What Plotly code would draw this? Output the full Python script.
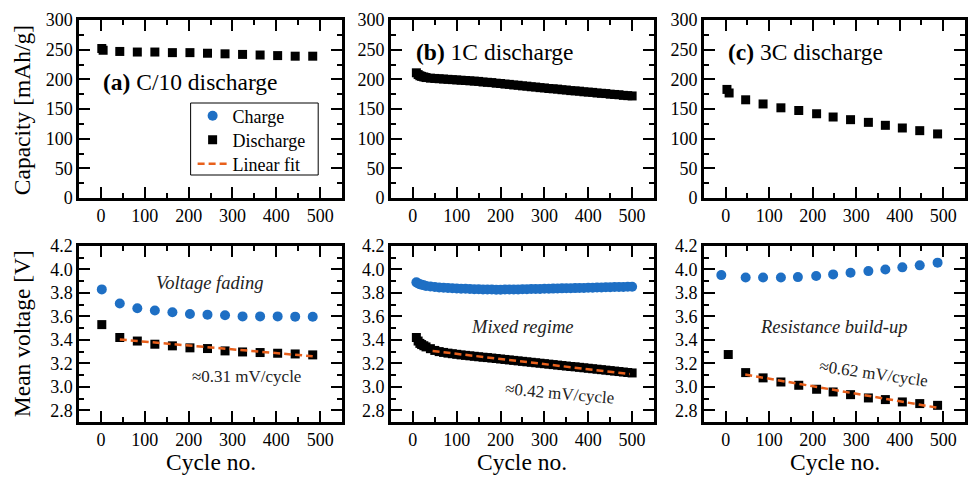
import plotly.graph_objects as go

FONT = "Liberation Serif"
BLUE = "#1E6FC4"
ORANGE = "#E8601C"
BLACK = "black"

# ---------------- data ----------------
# (a) C/10
cyc_a_cap = [2, 5, 43, 83, 123, 163, 203, 243, 283, 323, 363, 403, 443, 483]
cap_a = [252, 249, 247, 246, 246, 245, 245, 244, 243, 242, 241, 240, 239, 239]
cyc_a = [2, 43, 83, 123, 163, 203, 243, 283, 323, 363, 403, 443, 483]
vch_a = [3.83, 3.71, 3.67, 3.65, 3.635, 3.62, 3.615, 3.61, 3.60, 3.60, 3.60, 3.598, 3.597]
vdis_a = [3.53, 3.42, 3.39, 3.363, 3.349, 3.332, 3.326, 3.306, 3.297, 3.292, 3.286, 3.28, 3.272]
fit_a_x = [43, 483]
fit_a_y = [3.403, 3.26]

# (b) 1C
cyc_b = [8, 12, 16, 20, 25, 30, 40, 50, 60, 70, 80, 90, 100, 110, 120, 130, 140, 150,
         160, 170, 180, 190, 200, 210, 220, 230, 240, 250, 260, 270, 280, 290, 300, 310,
         320, 330, 340, 350, 360, 370, 380, 390, 400, 410, 420, 430, 440, 450, 460, 470,
         480, 490, 500]
cap_b = [211, 208, 206, 205, 204, 203, 202, 201.5, 201, 200.5, 200, 199.5, 199, 198.5,
         198, 197.5, 197, 196.5, 195.5, 195, 194.5, 193.5, 193, 192, 191.5, 190.5, 190,
         189, 188.5, 187.5, 187, 186, 185.5, 184.5, 184, 183.5, 182.5, 182, 181, 180.5,
         180, 179, 178.5, 178, 177, 176.5, 176, 175, 174.5, 174, 173, 172.5, 172]
vch_b = [3.89, 3.88, 3.875, 3.87, 3.865, 3.86, 3.855, 3.85, 3.847, 3.845, 3.842, 3.84,
         3.838, 3.836, 3.835, 3.833, 3.832, 3.831, 3.83, 3.829, 3.829, 3.828, 3.828, 3.829,
         3.829, 3.83, 3.83, 3.831, 3.832, 3.833, 3.833, 3.834, 3.835, 3.836, 3.837, 3.838,
         3.839, 3.84, 3.84, 3.841, 3.842, 3.843, 3.844, 3.845, 3.846, 3.847, 3.848, 3.849,
         3.85, 3.85, 3.851, 3.852, 3.853]
vdis_b = [3.42, 3.39, 3.37, 3.36, 3.35, 3.34, 3.325, 3.31, 3.30, 3.293, 3.287, 3.282,
          3.277, 3.272, 3.268, 3.264, 3.26, 3.256, 3.252, 3.249, 3.245, 3.241, 3.237, 3.233,
          3.229, 3.225, 3.221, 3.217, 3.213, 3.209, 3.205, 3.201, 3.197, 3.193, 3.189, 3.185,
          3.181, 3.177, 3.173, 3.17, 3.166, 3.162, 3.158, 3.154, 3.15, 3.146, 3.142, 3.138,
          3.134, 3.13, 3.126, 3.122, 3.118]
fit_b_x = [45, 495]
fit_b_y = [3.305, 3.108]

# (c) 3C
cyc_c_cap = [3, 8, 46, 86, 127, 168, 209, 247, 287, 328, 367, 406, 446, 487]
cap_c = [183, 177, 165.5, 158.5, 152, 147.5, 142, 136.5, 132, 127.5, 122.5, 118, 113.5, 108]
cyc_c_ch = [-10, 46, 86, 127, 166, 208, 247, 287, 328, 367, 406, 446, 487]
vch_c = [3.952, 3.932, 3.932, 3.932, 3.935, 3.944, 3.958, 3.972, 3.986, 4.0, 4.018, 4.035, 4.058]
cyc_c_dis = [6, 46, 86, 127, 168, 209, 247, 287, 328, 367, 406, 446, 487]
vdis_c = [3.275, 3.121, 3.076, 3.041, 3.013, 2.979, 2.956, 2.933, 2.905, 2.891, 2.871, 2.857, 2.842]
fit_c_x = [45, 486]
fit_c_y = [3.104, 2.822]

panel_titles = ["<b>(a)</b> C/10 discharge", "<b>(b)</b> 1C discharge", "<b>(c)</b> 3C discharge"]
regime_labels = ["Voltage fading", "Mixed regime", "Resistance build-up"]
slope_labels = ["≈0.31 mV/cycle", "≈0.42 mV/cycle", "≈0.62 mV/cycle"]

# ---------------- figure ----------------
fig = go.Figure()

def sq(x, y, xa, ya, name="Discharge", show=False, size=9, legend="legend2"):
    fig.add_trace(go.Scatter(x=x, y=y, mode="markers", xaxis=xa, yaxis=ya, name=name,
                             showlegend=show, legend=legend,
                             marker=dict(symbol="square", size=size, color=BLACK,
                                         line=dict(width=0))))

def circ(x, y, xa, ya, show=False, size=10):
    fig.add_trace(go.Scatter(x=x, y=y, mode="markers", xaxis=xa, yaxis=ya, name="Charge",
                             showlegend=show, legend="legend",
                             marker=dict(symbol="circle", size=size, color=BLUE,
                                         line=dict(width=0))))

def fit(x, y, xa, ya, show=False):
    fig.add_trace(go.Scatter(x=x, y=y, mode="lines", xaxis=xa, yaxis=ya, name="Linear fit",
                             showlegend=show, legend="legend3",
                             line=dict(color=ORANGE, width=2.5, dash="7px,4px")))

# top row capacities
sq(cyc_a_cap, cap_a, "x", "y")
sq(cyc_b, cap_b, "x2", "y2")
sq(cyc_c_cap, cap_c, "x3", "y3")

# bottom row voltages (legend entries come from panel a)
circ(cyc_a, vch_a, "x4", "y4", show=True)
sq(cyc_a, vdis_a, "x4", "y4", show=True)
fit(fit_a_x, fit_a_y, "x4", "y4", show=True)

circ(cyc_b, vch_b, "x5", "y5")
sq(cyc_b, vdis_b, "x5", "y5")
fit(fit_b_x, fit_b_y, "x5", "y5")

circ(cyc_c_ch, vch_c, "x6", "y6")
sq(cyc_c_dis, vdis_c, "x6", "y6")
fit(fit_c_x, fit_c_y, "x6", "y6")

# ---------------- layout ----------------
W, H = 968, 477
ML, MR, MT, MB = 79, 0, 20, 55
PW = W - ML - MR
PH = H - MT - MB

def px_x(p):
    return (p - ML) / PW

def px_y(p):
    return (H - MB - p) / PH

xdoms = [[0, 264 / PW], [313 / PW, 577 / PW], [627 / PW, 1.0]]
ydom_top = [px_y(198), 1.0]
ydom_bot = [0, px_y(246)]

tickfont = dict(family=FONT, size=18, color="black")

def xaxis(dom, anchor):
    return dict(domain=dom, anchor=anchor, range=[-50, 550], tick0=0, dtick=100,
                ticks="inside", ticklen=11, tickwidth=2, tickcolor="black",
                showline=True, linewidth=2.5, linecolor="black", mirror="allticks",
                showgrid=False, zeroline=False, tickfont=tickfont,
                minor=dict(dtick=50, ticks="inside", ticklen=5, tickwidth=2,
                           tickcolor="black", showgrid=False))

def yaxis_top(anchor):
    return dict(domain=ydom_top, anchor=anchor, range=[0, 300], tick0=0, dtick=50,
                ticks="inside", ticklen=11, tickwidth=2, tickcolor="black",
                showline=True, linewidth=2.5, linecolor="black", mirror="allticks",
                showgrid=False, zeroline=False, tickfont=tickfont,
                minor=dict(dtick=25, ticks="inside", ticklen=5, tickwidth=2,
                           tickcolor="black", showgrid=False))

def yaxis_bot(anchor):
    return dict(domain=ydom_bot, anchor=anchor, range=[2.7, 4.2], tick0=2.8, dtick=0.2,
                tickformat=".1f",
                ticks="inside", ticklen=11, tickwidth=2, tickcolor="black",
                showline=True, linewidth=2.5, linecolor="black", mirror="allticks",
                showgrid=False, zeroline=False, tickfont=tickfont,
                minor=dict(dtick=0.1, ticks="inside", ticklen=5, tickwidth=2,
                           tickcolor="black", showgrid=False))

def leg(row_y):
    return dict(x=px_x(193), y=px_y(row_y), xanchor="left", yanchor="middle",
                bgcolor="rgba(0,0,0,0)", borderwidth=0,
                font=dict(family=FONT, size=18, color="black"),
                tracegroupgap=0, itemsizing="trace")

layout = dict(
    width=W, height=H,
    margin=dict(l=ML, r=MR, t=MT, b=MB, pad=0),
    paper_bgcolor="white", plot_bgcolor="white",
    font=dict(family=FONT, size=18, color="black"),
    legend=leg(116), legend2=leg(140), legend3=leg(164),
    shapes=[dict(type="rect", xref="paper", yref="paper",
                 x0=px_x(191), x1=px_x(319), y0=px_y(175), y1=px_y(103),
                 line=dict(color="black", width=1), fillcolor="rgba(0,0,0,0)",
                 layer="above")],
)
for i in range(3):
    k = "" if i == 0 else str(i + 1)
    layout["xaxis" + k] = xaxis(xdoms[i], "y" + k)
    layout["yaxis" + k] = yaxis_top("x" + k)
for i in range(3):
    k = str(i + 4)
    layout["xaxis" + k] = xaxis(xdoms[i], "y" + k)
    layout["yaxis" + k] = yaxis_bot("x" + k)

fig.update_layout(**layout)

ann = []
# panel titles
title_pos = [(0.083, 0.654), (0.087, 0.823), (0.083, 0.823)]
for i, (t, (tx, ty)) in enumerate(zip(panel_titles, title_pos)):
    k = "" if i == 0 else str(i + 1)
    ann.append(dict(text=t, xref="x" + k + " domain", yref="y" + k + " domain",
                    x=tx, y=ty, xanchor="left", yanchor="middle", showarrow=False,
                    font=dict(family=FONT, size=23.5, color="black")))
# regime labels (data coords)
reg_pos = [(248, 3.884), (250, 3.508), (248, 3.508)]
for i, (t, (tx, ty)) in enumerate(zip(regime_labels, reg_pos)):
    k = str(i + 4)
    ann.append(dict(text="<i>" + t + "</i>", xref="x" + k, yref="y" + k, x=tx, y=ty,
                    showarrow=False, font=dict(family=FONT, size=18.5, color="#222")))
slope_pos = [(332, 3.09, 0), (334, 2.945, 5), (339, 3.115, 8)]
for i, (t, (tx, ty, ang)) in enumerate(zip(slope_labels, slope_pos)):
    k = str(i + 4)
    ann.append(dict(text=t, xref="x" + k, yref="y" + k, x=tx, y=ty, textangle=ang,
                    showarrow=False, font=dict(family=FONT, size=17, color="#222")))
# axis titles
ann.append(dict(text="Capacity [mAh/g]", xref="paper", yref="paper",
                x=px_x(22), y=px_y(110), textangle=-90, showarrow=False,
                xanchor="center", yanchor="middle",
                font=dict(family=FONT, size=23.5, color="black")))
ann.append(dict(text="Mean voltage [V]", xref="paper", yref="paper",
                x=px_x(22), y=px_y(334), textangle=-90, showarrow=False,
                xanchor="center", yanchor="middle",
                font=dict(family=FONT, size=23.5, color="black")))
for cx in [211, 524, 838]:
    ann.append(dict(text="Cycle no.", xref="paper", yref="paper",
                    x=px_x(cx), y=px_y(462), showarrow=False,
                    xanchor="center", yanchor="middle",
                    font=dict(family=FONT, size=23.5, color="black")))
fig.update_layout(annotations=ann)

fig.write_html("out.html")
